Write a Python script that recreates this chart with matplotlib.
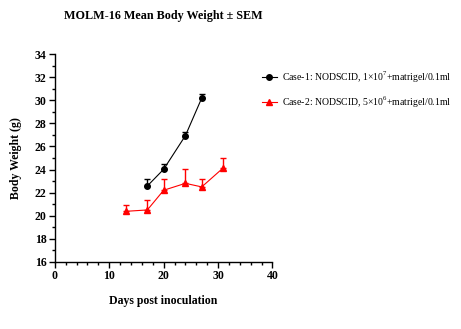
import matplotlib.pyplot as plt
from matplotlib.ticker import MultipleLocator

# === DATA ===
days_case1 = [17, 20, 24, 27]
weight_case1 = [22.57, 24.02, 26.94, 30.2]
sem_case1 = [0.6, 0.43, 0.3, 0.33]

days_case2 = [13, 17, 20, 24, 27, 31]
weight_case2 = [20.37, 20.49, 22.2, 22.8, 22.49, 24.16]
sem_case2 = [0.53, 0.87, 0.98, 1.22, 0.69, 0.82]

label_case1 = 'Case-1: NODSCID, 1×10$^7$+matrigel/0.1ml'
label_case2 = 'Case-2: NODSCID, 5×10$^6$+matrigel/0.1ml'

plt.rcParams['font.family'] = ['Liberation Serif', 'DejaVu Serif']
plt.rcParams['mathtext.fontset'] = 'custom'
plt.rcParams['mathtext.rm'] = 'Liberation Serif'

fig = plt.figure(figsize=(4.61, 3.29), dpi=100)
ax = fig.add_axes([0.119, 0.2046, 0.472, 0.6304])

# upper-only error bars, then line + marker (legend shows no error bar)
ax.errorbar(days_case1, weight_case1, yerr=[[0] * len(sem_case1), sem_case1],
            fmt='none', ecolor='black', elinewidth=1.0, capsize=2.5, capthick=1.0)
ax.plot(days_case1, weight_case1, color='black', marker='o', markersize=4,
        linewidth=0.8, label=label_case1)
ax.errorbar(days_case2, weight_case2, yerr=[[0] * len(sem_case2), sem_case2],
            fmt='none', ecolor='#ff0000', elinewidth=1.0, capsize=2.5, capthick=1.0)
ax.plot(days_case2, weight_case2, color='#ff0000', marker='^', markersize=4.5,
        linewidth=0.8, label=label_case2)

ax.set_xlim(0, 40)
ax.set_ylim(16, 34)
ax.xaxis.set_major_locator(MultipleLocator(10))
ax.xaxis.set_minor_locator(MultipleLocator(2))
ax.yaxis.set_major_locator(MultipleLocator(2))
ax.yaxis.set_minor_locator(MultipleLocator(1))

for side in ['top', 'right']:
    ax.spines[side].set_visible(False)
for side in ['left', 'bottom']:
    ax.spines[side].set_linewidth(1.0)
ax.tick_params(which='major', length=4, width=1.0, labelsize=8.5, pad=2)
ax.tick_params(which='minor', length=2, width=1.0)
for lbl in ax.get_xticklabels() + ax.get_yticklabels():
    lbl.set_fontweight('bold')

ax.set_xlabel('Days post inoculation', fontsize=8.5, fontweight='bold', labelpad=9)
ax.set_ylabel('Body Weight (g)', fontsize=8.5, fontweight='bold', labelpad=9)
ax.set_title('MOLM-16 Mean Body Weight ± SEM', fontsize=8.7, fontweight='bold', pad=25.5)

fig.legend(loc='upper left', bbox_to_anchor=(0.56, 0.80), frameon=False,
           fontsize=7, handlelength=1.5, handletextpad=0.6, labelspacing=1.0,
           borderaxespad=0)

fig.savefig('out.png', dpi=100)
